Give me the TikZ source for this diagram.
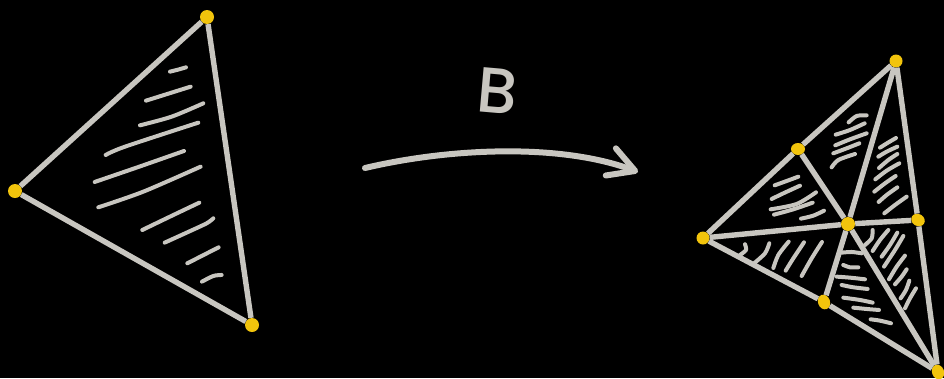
\documentclass[tikz,border=0pt]{standalone}
\usepackage{fontspec}
\setmainfont{Poppins}
\newfontfamily\signfont{Poppins Medium}
\usepackage{xcolor}
\usetikzlibrary{arrows.meta, shapes.geometric}
\definecolor{chalk}{HTML}{C8C6C0}
\definecolor{vertexyellow}{HTML}{F2C40C}
\tikzset{
  vertex/.style={circle, fill=vertexyellow, inner sep=0pt, minimum size=14pt},
  blob/.style={ellipse, fill=vertexyellow, inner sep=0pt, minimum width=15pt, minimum height=12pt},
  edge/.style={draw=chalk, line width=5.4pt},
  hatch/.style={draw=chalk, line width=4pt, line cap=round, line join=round}
}
\begin{document}
\begin{tikzpicture}[x=1pt, y=-1pt]
    \fill[black] (0,0) rectangle (944,378);
    \useasboundingbox (0,0) rectangle (944,378);

    % left triangle
    \node[vertex] (top) at (207,17) {};
    \node[vertex] (left) at (15,191) {};
    \node[vertex] (right) at (252,325) {};
    \draw[edge] (left) -- (top);
    \draw[edge] (top) -- (right);
    \draw[edge] (left) -- (right);

    \begin{scope}[x=0.3333pt, y=-0.3333pt]
      \foreach \ax/\ay/\bx/\by/\cx/\cy in {
          510/215/534/209/558/202, 438/302/505/281/572/260,
          420/376/515/350/610/310, 317/465/375/440/595/368,
          284/546/418/500/552/453, 295/622/430/575/602/500,
          427/690/512/649/598/608, 562/790/609/766/656/742}
        \draw[hatch] plot[smooth] coordinates {(\ax,\ay) (\bx,\by) (\cx,\cy)};
      \draw[hatch] plot[smooth] coordinates {(494,728) (560,698) (620,670) (640,655)};
      \draw[hatch] plot[smooth] coordinates {(606,845) (640,828) (665,825)};
    \end{scope}

    % arrow and label
    \coordinate (arrowstart) at (365,168);
    \coordinate (arrowend) at (638,172);
    \draw[chalk, line width=6pt, line cap=round,
          -{Straight Barb[length=26pt, width=29pt, round]}]
      (arrowstart) .. controls (450,148) and (560,143) .. (arrowend);
    \node[text=chalk, font=\signfont\fontsize{64}{64}\selectfont, inner sep=0pt, rotate=-5] (map) at (498,91) {B};

    % right triangle, subdivided
    \node[vertex, minimum size=13pt] (apex) at (896,61) {};
    \node[blob, minimum width=14pt] (mid) at (798,149) {};
    \node[vertex, minimum size=13pt] (west) at (703,238) {};
    \node[vertex] (centre) at (848,224) {};
    \node[blob, rotate=-30, minimum width=14pt] (east) at (918,220) {};
    \node[blob, rotate=-70] (foot) at (824,302) {};
    \node[blob, rotate=-70] (corner) at (938,372) {};
    \draw[edge] (west) -- (mid);
    \draw[edge] (mid) -- (apex);
    \draw[edge] (apex) -- (east);
    \draw[edge] (east) -- (corner);
    \draw[edge] (west) -- (foot);
    \draw[edge] (foot) -- (corner);
    \draw[edge] (west) -- (centre);
    \draw[edge] (centre) -- (east);
    \draw[edge] (apex) -- (centre);
    \draw[edge] (mid) -- (centre);
    \draw[edge] (centre) -- (foot);
    \draw[edge] (centre) -- (corner);

    \begin{scope}[xshift=690pt, yshift=-50pt, x=0.3333pt, y=-0.3333pt]
      \foreach \ax/\ay/\bx/\by/\cx/\cy in {
          476/217/500/198/530/196, 437/254/480/240/524/220,
          436/286/480/268/530/250, 430/310/470/295/508/280,
          425/352/445/330/495/312,
          570/293/594/278/618/264, 565/320/590/305/622/290,
          567/354/595/330/622/312, 556/388/590/362/628/340,
          553/425/585/400/617/378, 566/456/590/435/622/412,
          583/490/615/465/650/440,
          254/406/290/393/325/380, 245/447/280/430/330/407,
          242/478/320/462/378/427, 252/494/310/478/368/458,
          333/506/370/497/402/482,
          150/615/168/600/165/583, 192/640/225/610/238/580,
          250/654/265/615/296/575, 287/662/310/625/342/577,
          335/678/365/625/396/576,
          525/585/545/565/548/540, 548/603/570/570/595/540,
          575/620/600/585/622/548, 582/650/615/600/640/558,
          597/688/620/650/645/617, 615/703/635/680/650/658,
          632/745/648/720/658/692, 645/775/660/745/678/715,
          455/608/485/606/515/610, 460/645/480/652/505/652,
          440/680/480/683/525/688, 455/705/490/712/533/717,
          460/743/510/750/548/758, 490/773/530/777/567/780,
          542/808/570/812/603/820}
        \draw[hatch] plot[smooth] coordinates {(\ax,\ay) (\bx,\by) (\cx,\cy)};
    \end{scope}
\end{tikzpicture}
\end{document}
